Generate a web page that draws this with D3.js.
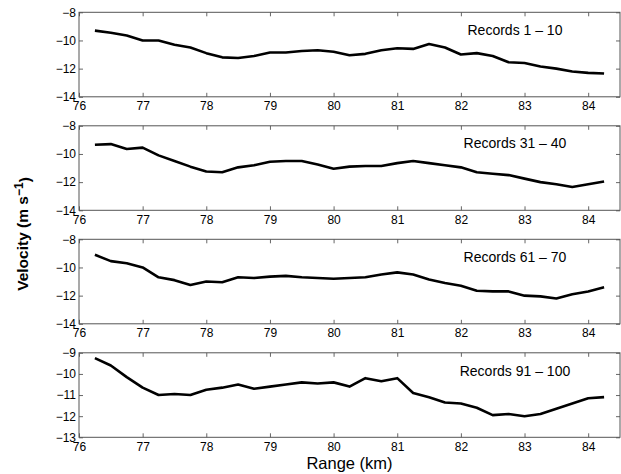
<!DOCTYPE html>
<html>
<head>
<meta charset="utf-8">
<script src="https://cdn.jsdelivr.net/npm/d3@7"></script>
<style>
  body { margin: 0; background: #fff; }
  svg { display: block; font-family: "Liberation Sans", Arial, Helvetica, sans-serif; }
</style>
</head>
<body>
<div id="chart"></div>
<script>
// range positions (km) shared by all four panels
const rangeKm = [76.25, 76.5, 76.75, 77, 77.25, 77.5, 77.75, 78, 78.25, 78.5, 78.75,
                 79, 79.25, 79.5, 79.75, 80, 80.25, 80.5, 80.75, 81, 81.25, 81.5,
                 81.75, 82, 82.25, 82.5, 82.75, 83, 83.25, 83.5, 83.75, 84, 84.25]

const records1to10 = [-9.3, -9.45, -9.65, -10.0, -10.0, -10.3, -10.5, -10.9, -11.2, -11.25, -11.1,
                      -10.85, -10.85, -10.75, -10.7, -10.8, -11.05, -10.95, -10.7, -10.55, -10.6, -10.25,
                      -10.5, -11.0, -10.9, -11.1, -11.55, -11.6, -11.85, -12.0, -12.2, -12.3, -12.35]

const records31to40 = [-9.35, -9.3, -9.65, -9.55, -10.1, -10.5, -10.9, -11.25, -11.3, -10.95, -10.8,
                       -10.55, -10.5, -10.5, -10.75, -11.05, -10.9, -10.85, -10.85, -10.65, -10.5, -10.65,
                       -10.8, -10.95, -11.3, -11.4, -11.5, -11.75, -12.0, -12.15, -12.35, -12.15, -11.95]

const records61to70 = [-9.1, -9.55, -9.7, -10.0, -10.7, -10.9, -11.25, -11.0, -11.05, -10.7, -10.75,
                       -10.65, -10.6, -10.7, -10.75, -10.8, -10.75, -10.7, -10.5, -10.35, -10.5, -10.85,
                       -11.1, -11.3, -11.65, -11.7, -11.7, -12.0, -12.05, -12.2, -11.9, -11.7, -11.4]

const records91to100 = [-9.25, -9.6, -10.15, -10.65, -11.0, -10.95, -11.0, -10.75, -10.65, -10.5, -10.7,
                        -10.6, -10.5, -10.4, -10.45, -10.4, -10.6, -10.2, -10.35, -10.2, -10.9, -11.1,
                        -11.35, -11.4, -11.6, -11.95, -11.9, -12.0, -11.9, -11.65, -11.4, -11.15, -11.1]

const panelLabels = ['Records 1 \u2013 10', 'Records 31 \u2013 40', 'Records 61 \u2013 70', 'Records 91 \u2013 100']
const xTicks = [76, 77, 78, 79, 80, 81, 82, 83, 84]
const yTicksWide = [-8, -10, -12, -14]
const yTicksNarrow = [-9, -10, -11, -12, -13]

const drawChart = () => {
  const width = 621
  const height = 474

  const left = 79
  const right = 620
  const panelHeight = 84.5
  const panelTops = [12.3, 125.8, 239.3, 352.8]

  const panels = [
    { values: records1to10, ticks: yTicksWide, domain: [-14, -8] },
    { values: records31to40, ticks: yTicksWide, domain: [-14, -8] },
    { values: records61to70, ticks: yTicksWide, domain: [-14, -8] },
    { values: records91to100, ticks: yTicksNarrow, domain: [-13, -9] }
  ]

  const svg = d3.select('#chart')
    .append('svg')
    .attr('width', width)
    .attr('height', height)

  const x = d3.scaleLinear()
    .domain([76, 84.5])
    .range([0, right - left])

  panels.forEach((p, i) => {
    const g = svg.append('g')
      .attr('transform', `translate(${left},${panelTops[i]})`)

    const y = d3.scaleLinear()
      .domain(p.domain)
      .range([panelHeight, 0])

    // ticks point inward on all four sides, labels only left and bottom
    const axes = [
      { ax: d3.axisBottom(x).tickValues(xTicks).tickFormat(d3.format('d')).tickPadding(5), t: `translate(0,${panelHeight})` },
      { ax: d3.axisTop(x).tickValues(xTicks).tickFormat(''), t: 'translate(0,0)' },
      { ax: d3.axisLeft(y).tickValues(p.ticks).tickFormat(d3.format('d')).tickPadding(3), t: 'translate(0,0)' },
      { ax: d3.axisRight(y).tickValues(p.ticks).tickFormat(''), t: `translate(${right - left},0)` }
    ]

    axes.forEach(a => {
      const axisG = g.append('g')
        .attr('transform', a.t)
        .call(a.ax.tickSizeInner(-4).tickSizeOuter(0))
      axisG.select('.domain').remove()
      axisG.selectAll('line').attr('stroke', '#666')
      axisG.selectAll('text')
        .attr('fill', '#000')
        .style('font-size', '12px')
        .style('font-family', '"Liberation Sans", Arial, sans-serif')
    })

    g.append('rect')
      .attr('x', 0)
      .attr('y', 0)
      .attr('width', right - left)
      .attr('height', panelHeight)
      .attr('fill', 'none')
      .attr('stroke', '#555')
      .attr('stroke-width', 1)

    const line = d3.line()
      .x((d, j) => x(rangeKm[j]))
      .y(d => y(d))

    g.append('path')
      .datum(p.values)
      .attr('d', line)
      .attr('fill', 'none')
      .attr('stroke', '#000')
      .attr('stroke-width', 2.6)
      .attr('stroke-linejoin', 'round')

    const labelY = i === 3 ? -9.85 : -9.25
    g.append('text')
      .attr('x', x(82.85))
      .attr('y', y(labelY))
      .attr('dy', '0.35em')
      .attr('text-anchor', 'middle')
      .style('font-size', '14px')
      .text(panelLabels[i])
  })

  svg.append('text')
    .attr('x', (left + right) / 2)
    .attr('y', 469)
    .attr('text-anchor', 'middle')
    .style('font-size', '16.5px')
    .text('Range (km)')

  const yLabel = svg.append('text')
    .attr('transform', 'translate(28,234) rotate(-90)')
    .attr('text-anchor', 'middle')
    .style('font-size', '15.5px')
    .style('font-weight', 'bold')
  yLabel.append('tspan').text('Velocity (m s')
  yLabel.append('tspan').attr('dy', '-0.45em').style('font-size', '12px').text('\u22121')
  yLabel.append('tspan').attr('dy', '0.45em').text(')')
}

drawChart()
</script>
</body>
</html>
